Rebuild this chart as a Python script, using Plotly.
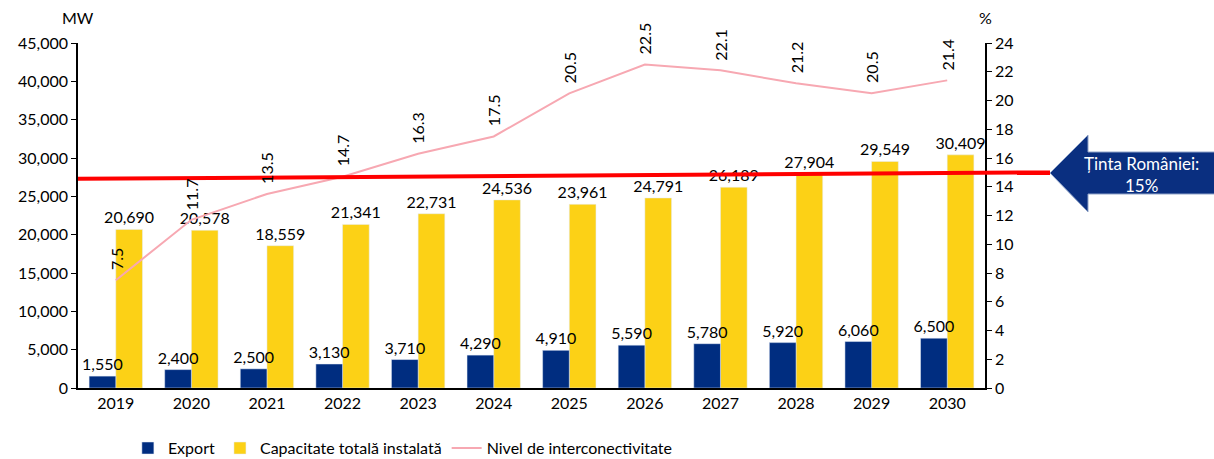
import plotly.graph_objects as go

# ---- data ----
years = [str(y) for y in range(2019, 2031)]
export = [1550, 2400, 2500, 3130, 3710, 4290, 4910, 5590, 5780, 5920, 6060, 6500]
capacity = [20690, 20578, 18559, 21341, 22731, 24536, 23961, 24791, 26189, 27904, 29549, 30409]
interconn = [7.5, 11.7, 13.5, 14.7, 16.3, 17.5, 20.5, 22.5, 22.1, 21.2, 20.5, 21.4]
mw_ticks = list(range(0, 45001, 5000))
pct_ticks = list(range(0, 25, 2))
target_line = [14.55, 15.0]   # red target line (left end, right end), %
target_text = "Ținta României:<br>15%"
series_names = ["Export", "Capacitate totală instalată", "Nivel de interconectivitate"]

NAVY = "#002D80"
YELLOW = "#FCD116"
PINK = "#F7A8B2"
FONT = "Lato"
BAR_W = 0.353

fig = go.Figure()
# yellow drawn first so the export labels sit on top of it
fig.add_trace(go.Bar(
    x=years, y=capacity, name=series_names[1], marker_color=YELLOW,
    width=BAR_W, offset=0, legendrank=2,
    text=[f"{v:,}" for v in capacity], textposition="outside", constraintext="none",
    textfont=dict(size=16, color="black"), cliponaxis=False,
))
fig.add_trace(go.Bar(
    x=years, y=export, name=series_names[0], marker_color=NAVY,
    width=BAR_W, offset=-BAR_W, legendrank=1,
    text=[f"{v:,}" for v in export], textposition="outside", constraintext="none",
    textfont=dict(size=16, color="black"), cliponaxis=False,
))
fig.add_trace(go.Scatter(
    x=years, y=interconn, name=series_names[2], yaxis="y2", legendrank=3,
    mode="lines", line=dict(color=PINK, width=2),
))

annotations = []
for i, v in enumerate(interconn):
    annotations.append(dict(
        x=i, y=v, xref="x", yref="y2", text=f"{v:.1f}", showarrow=False,
        textangle=-90, yanchor="bottom", xanchor="center", yshift=8,
        font=dict(size=16, color="black"),
    ))
annotations.append(dict(x=0, y=1.04, xref="paper", yref="paper", text="MW",
                        showarrow=False, xanchor="center", yanchor="bottom",
                        font=dict(size=16, color="black")))
annotations.append(dict(x=1, y=1.04, xref="paper", yref="paper", text="%",
                        showarrow=False, xanchor="center", yanchor="bottom",
                        font=dict(size=16, color="black")))
annotations.append(dict(x=1.173, y=0.618, xref="paper", yref="paper", text=target_text,
                        showarrow=False, xanchor="center", yanchor="middle",
                        font=dict(size=17, color="white")))

# geometry helpers for arrow (paper coords)
def px(xp):
    return (xp - 78) / 907
def py(yp):
    return (388 - yp) / 345

arrow_path = (f"M {px(1050)},{py(173)} L {px(1088)},{py(135)} L {px(1088)},{py(152)} "
              f"L {px(1216)},{py(152)} L {px(1216)},{py(194)} L {px(1088)},{py(194)} "
              f"L {px(1088)},{py(212)} Z")

shapes = [
    dict(type="line", xref="paper", yref="y2", x0=0, x1=px(1050),
         y0=target_line[0], y1=target_line[1], line=dict(color="#FF0000", width=4),
         layer="above"),
    dict(type="path", xref="paper", yref="paper", path=arrow_path,
         fillcolor="#0A2F80", line=dict(color="#8FA3C8", width=1), layer="above"),
]

fig.update_layout(
    width=1214, height=459,
    margin=dict(l=78, r=229, t=43, b=71, autoexpand=False),
    plot_bgcolor="white", paper_bgcolor="white",
    font=dict(family=FONT, size=16, color="black"),
    barmode="group", bargap=0.295, bargroupgap=0,
    showlegend=True,
    legend=dict(orientation="h", x=0.055, y=-0.125, xanchor="left", yanchor="top",
                font=dict(size=16, color="black"), traceorder="normal",
                itemwidth=30, tracegroupgap=0),
    xaxis=dict(type="category", range=[-0.5, len(years) - 0.5], showline=True,
               linecolor="black", linewidth=1.5, ticks="",
               showgrid=False, tickfont=dict(size=16), automargin=False),
    yaxis=dict(range=[0, 45000], tickvals=mw_ticks, tickformat=",", showgrid=False,
               showline=True, linecolor="black", linewidth=1.5, ticks="outside",
               ticklen=5, tickcolor="black", zeroline=False, tickfont=dict(size=16),
               automargin=False),
    yaxis2=dict(range=[0, 24], tickvals=pct_ticks, overlaying="y", side="right",
                showgrid=False, showline=True, linecolor="black", linewidth=1.5,
                ticks="outside", ticklen=5, tickcolor="black", zeroline=False,
                tickfont=dict(size=16), automargin=False),
    annotations=annotations,
    shapes=shapes,
)

fig.write_html("out.html", config={"displayModeBar": False},
               post_script="document.body.style.margin='0';")
